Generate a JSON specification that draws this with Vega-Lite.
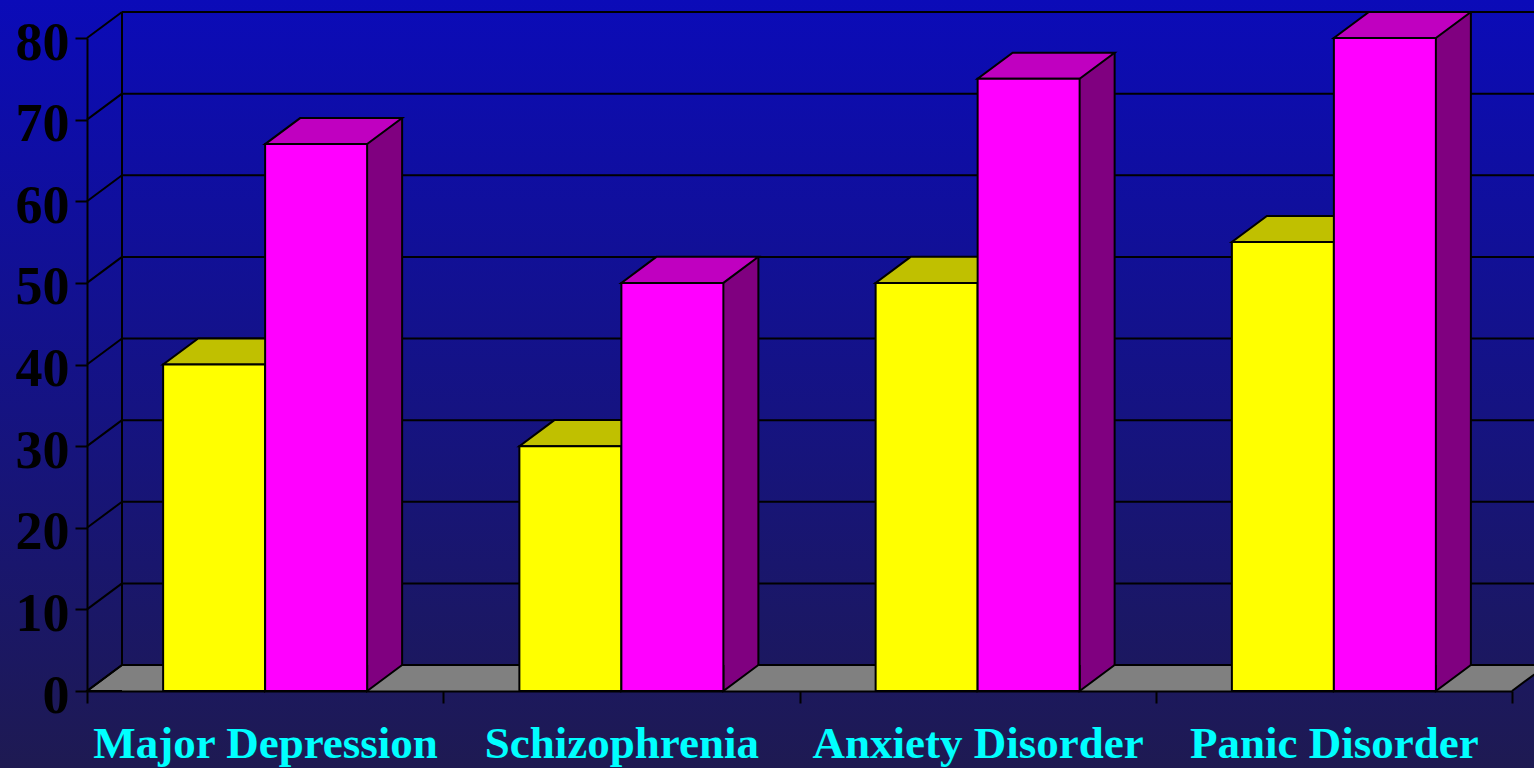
{
  "$schema": "https://vega.github.io/schema/vega-lite/v6.json",
  "width": 1534,
  "height": 768,
  "padding": 0,
  "autosize": {"type": "none"},
  "background": "#1e1a52",
  "config": {
    "view": {"stroke": null},
    "axis": {"domainColor": "#000000", "domainWidth": 2, "tickColor": "#000000", "tickWidth": 2, "tickSize": 12, "grid": false, "labelFont": "Liberation Serif", "labelFontWeight": "bold"}
  },
  "datasets": {
    "bars": [
      {"cat": "Major Depression", "series": "Series 1", "value": 40},
      {"cat": "Major Depression", "series": "Series 2", "value": 67},
      {"cat": "Schizophrenia", "series": "Series 1", "value": 30},
      {"cat": "Schizophrenia", "series": "Series 2", "value": 50},
      {"cat": "Anxiety Disorder", "series": "Series 1", "value": 50},
      {"cat": "Anxiety Disorder", "series": "Series 2", "value": 75},
      {"cat": "Panic Disorder", "series": "Series 1", "value": 55},
      {"cat": "Panic Disorder", "series": "Series 2", "value": 80}
    ],
    "ticks": [{"v": 0}, {"v": 10}, {"v": 20}, {"v": 30}, {"v": 40}, {"v": 50}, {"v": 60}, {"v": 70}, {"v": 80}],
    "one": [{"k": 1}]
  },
  "layer": [
    {
      "data": {"name": "one"},
      "mark": {"type": "rect", "color": {"gradient": "linear", "x1": 0, "y1": 0, "x2": 0, "y2": 1, "stops": [{"offset": 0, "color": "#0b0bb8"}, {"offset": 1, "color": "#1e1a52"}]}},
      "encoding": {}
    },
    {
      "data": {"name": "one"},
      "mark": {"type": "rule", "color": "#808080", "strokeWidth": 26, "strokeCap": "butt", "xOffset": 35, "yOffset": -13},
      "encoding": {
        "x": {"datum": "Major Depression", "type": "nominal", "bandPosition": 0, "scale": {"type": "band", "domain": ["Major Depression", "Schizophrenia", "Anxiety Disorder", "Panic Disorder"], "range": [87, 1512], "paddingInner": 0, "paddingOuter": 0}, "axis": {"title": null, "orient": "bottom", "offset": -77, "zindex": 2, "labelFontSize": 45, "labelColor": "#00ffff", "labelPadding": 18, "tickBand": "extent", "labelLimit": 0, "labelOverlap": false, "labelAngle": 0}},
        "x2": {"datum": "Panic Disorder", "bandPosition": 1},
        "y": {"datum": 0, "type": "quantitative", "scale": {"domain": [0, 80], "range": [691, 38], "nice": false, "zero": true}, "axis": {"title": null, "orient": "left", "offset": -87, "zindex": 2, "values": [0, 10, 20, 30, 40, 50, 60, 70, 80], "labelFontSize": 54, "labelColor": "#000000", "labelPadding": 6, "labelOffset": 5}}
      }
    },
    {
      "data": {"name": "one"},
      "mark": {"type": "point", "shape": "M1,0 L0,0 L1,-0.743", "size": 4900, "filled": true, "opacity": 1, "fill": "#808080", "stroke": "#000000", "strokeWidth": 2},
      "encoding": {
        "x": {"datum": "Major Depression", "type": "nominal", "bandPosition": 0},
        "y": {"datum": 0, "type": "quantitative"}
      }
    },
    {
      "data": {"name": "one"},
      "mark": {"type": "point", "shape": "M0,-0.743 L1,-0.743 L0,0", "size": 4900, "filled": true, "opacity": 1, "fill": "#808080", "stroke": "#000000", "strokeWidth": 2},
      "encoding": {
        "x": {"datum": "Panic Disorder", "type": "nominal", "bandPosition": 1},
        "y": {"datum": 0, "type": "quantitative"}
      }
    },
    {
      "data": {"name": "ticks"},
      "mark": {"type": "rule", "color": "#000000", "strokeWidth": 2, "xOffset": 35, "x2Offset": 35, "yOffset": -26},
      "encoding": {
        "x": {"datum": "Major Depression", "type": "nominal", "bandPosition": 0},
        "x2": {"datum": "Panic Disorder", "bandPosition": 1},
        "y": {"field": "v", "type": "quantitative"}
      }
    },
    {
      "data": {"name": "ticks"},
      "mark": {"type": "rule", "color": "#000000", "strokeWidth": 2, "x2Offset": 35, "y2Offset": -26},
      "encoding": {
        "x": {"datum": "Major Depression", "type": "nominal", "bandPosition": 0},
        "x2": {"datum": "Major Depression", "bandPosition": 0},
        "y": {"field": "v", "type": "quantitative"},
        "y2": {"field": "v"}
      }
    },
    {
      "data": {"name": "one"},
      "mark": {"type": "rule", "color": "#000000", "strokeWidth": 2, "xOffset": 35, "yOffset": -26, "y2Offset": -26},
      "encoding": {
        "x": {"datum": "Major Depression", "type": "nominal", "bandPosition": 0},
        "y": {"datum": 0, "type": "quantitative"},
        "y2": {"datum": 80}
      }
    },
    {
      "data": {"name": "bars"},
      "transform": [{"filter": "datum.series == 'Series 1'"}],
      "mark": {"type": "bar", "width": 35, "xOffset": 17.5, "yOffset": -26, "y2Offset": -26, "fill": "#808000", "stroke": null},
      "encoding": {"x": {"field": "cat", "type": "nominal"}, "y": {"field": "value", "type": "quantitative"}, "y2": {"datum": 0}}
    },
    {
      "data": {"name": "bars"},
      "transform": [{"filter": "datum.series == 'Series 2'"}],
      "mark": {"type": "bar", "width": 35, "xOffset": 119.5, "yOffset": -26, "y2Offset": -26, "fill": "#800080", "stroke": null},
      "encoding": {"x": {"field": "cat", "type": "nominal"}, "y": {"field": "value", "type": "quantitative"}, "y2": {"datum": 0}}
    },
    {
      "data": {"name": "bars"},
      "transform": [{"filter": "datum.series == 'Series 1'"}],
      "mark": {"type": "rule", "color": "#000000", "strokeWidth": 2, "xOffset": 35, "yOffset": -26, "y2Offset": -26},
      "encoding": {"x": {"field": "cat", "type": "nominal"}, "y": {"field": "value", "type": "quantitative"}, "y2": {"datum": 0}}
    },
    {
      "data": {"name": "bars"},
      "transform": [{"filter": "datum.series == 'Series 2'"}],
      "mark": {"type": "rule", "color": "#000000", "strokeWidth": 2, "xOffset": 137, "yOffset": -26, "y2Offset": -26},
      "encoding": {"x": {"field": "cat", "type": "nominal"}, "y": {"field": "value", "type": "quantitative"}, "y2": {"datum": 0}}
    },
    {
      "data": {"name": "bars"},
      "transform": [{"filter": "datum.series == 'Series 1'"}],
      "mark": {"type": "point", "shape": "M1,-0.743 L0,0 L0,-0.743", "size": 4900, "filled": true, "opacity": 1, "fill": "#808000", "stroke": "#000000", "strokeWidth": 2, "xOffset": 0},
      "encoding": {"x": {"field": "cat", "type": "nominal"}, "y": {"datum": 0, "type": "quantitative"}}
    },
    {
      "data": {"name": "bars"},
      "transform": [{"filter": "datum.series == 'Series 2'"}],
      "mark": {"type": "point", "shape": "M1,-0.743 L0,0 L0,-0.743", "size": 4900, "filled": true, "opacity": 1, "fill": "#800080", "stroke": "#000000", "strokeWidth": 2, "xOffset": 102},
      "encoding": {"x": {"field": "cat", "type": "nominal"}, "y": {"datum": 0, "type": "quantitative"}}
    },
    {
      "data": {"name": "bars"},
      "transform": [{"filter": "datum.series == 'Series 1'"}],
      "mark": {"type": "point", "shape": "M0,0 L2.914,0 L3.914,-0.743 L1,-0.743 Z", "size": 4900, "filled": true, "opacity": 1, "fill": "#c0c000", "stroke": "#000000", "strokeWidth": 2, "xOffset": -102},
      "encoding": {"x": {"field": "cat", "type": "nominal"}, "y": {"field": "value", "type": "quantitative"}}
    },
    {
      "data": {"name": "bars"},
      "transform": [{"filter": "datum.series == 'Series 2'"}],
      "mark": {"type": "point", "shape": "M0,0 L2.914,0 L3.914,-0.743 L1,-0.743 Z", "size": 4900, "filled": true, "opacity": 1, "fill": "#c000c0", "stroke": "#000000", "strokeWidth": 2, "xOffset": 0},
      "encoding": {"x": {"field": "cat", "type": "nominal"}, "y": {"field": "value", "type": "quantitative"}}
    },
    {
      "data": {"name": "bars"},
      "transform": [{"filter": "datum.series == 'Series 1'"}],
      "mark": {"type": "bar", "width": 102, "xOffset": -51, "fill": "#ffff00", "stroke": "#000000", "strokeWidth": 2},
      "encoding": {"x": {"field": "cat", "type": "nominal"}, "y": {"field": "value", "type": "quantitative"}, "y2": {"datum": 0}}
    },
    {
      "data": {"name": "bars"},
      "transform": [{"filter": "datum.series == 'Series 2'"}],
      "mark": {"type": "bar", "width": 102, "xOffset": 51, "fill": "#ff00ff", "stroke": "#000000", "strokeWidth": 2},
      "encoding": {"x": {"field": "cat", "type": "nominal"}, "y": {"field": "value", "type": "quantitative"}, "y2": {"datum": 0}}
    }
  ]
}
